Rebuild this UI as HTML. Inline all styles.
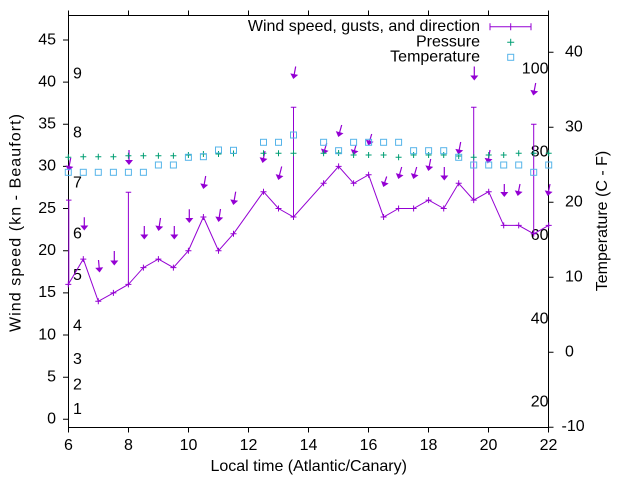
<!DOCTYPE html>
<html>
<head>
<meta charset="utf-8">
<style>
html,body{margin:0;padding:0;background:#fff;}
svg{display:block;}
text{font-family:"Liberation Sans",Arial,sans-serif;font-size:16px;fill:#000;}
</style>
</head>
<body>
<svg width="640" height="480" viewBox="0 0 640 480" xmlns="http://www.w3.org/2000/svg">
<rect width="640" height="480" fill="#fff"/>

<!-- axes box -->
<g stroke="#000" stroke-width="1" fill="none">
<path d="M68.5,15.5H548.5V427.5H68.5Z"/>
<!-- left ticks -->
<path d="M63,419.3h5.5M63,377.2h5.5M63,335.0h5.5M63,292.9h5.5M63,250.7h5.5M63,208.5h5.5M63,166.4h5.5M63,124.2h5.5M63,82.1h5.5M63,40.0h5.5"/>
<!-- bottom ticks -->
<path d="M68.5,427.5v5M128.5,427.5v5M188.5,427.5v5M248.5,427.5v5M308.5,427.5v5M368.5,427.5v5M428.5,427.5v5M488.5,427.5v5M548.5,427.5v5"/>
<!-- top ticks -->
<path d="M68.5,15.5v-5M128.5,15.5v-5M188.5,15.5v-5M248.5,15.5v-5M308.5,15.5v-5M368.5,15.5v-5M428.5,15.5v-5M488.5,15.5v-5M548.5,15.5v-5"/>
<!-- right ticks -->
<path d="M548.5,52.3h5M548.5,127.3h5M548.5,202.3h5M548.5,277.3h5M548.5,352.3h5M548.5,427.3h5"/>
</g>

<!-- left tick labels -->
<g text-anchor="end">
<text x="56" y="423.6">0</text>
<text x="56" y="381.5">5</text>
<text x="56" y="339.3">10</text>
<text x="56" y="297.2">15</text>
<text x="56" y="255.0">20</text>
<text x="56" y="212.8">25</text>
<text x="56" y="170.7">30</text>
<text x="56" y="128.5">35</text>
<text x="56" y="86.4">40</text>
<text x="56" y="44.3">45</text>
</g>

<!-- bottom tick labels -->
<g text-anchor="middle">
<text x="68.5" y="450">6</text>
<text x="128.5" y="450">8</text>
<text x="188.5" y="450">10</text>
<text x="248.5" y="450">12</text>
<text x="308.5" y="450">14</text>
<text x="368.5" y="450">16</text>
<text x="428.5" y="450">18</text>
<text x="488.5" y="450">20</text>
<text x="548.5" y="450">22</text>
</g>

<!-- right tick labels -->
<text x="565" y="56.3">40</text>
<text x="565" y="131.3">30</text>
<text x="565" y="206.3">20</text>
<text x="565" y="281.3">10</text>
<text x="565" y="356.3">0</text>
<text x="561.5" y="431">-10</text>

<!-- axis titles -->
<text x="308.7" y="471" text-anchor="middle">Local time (Atlantic/Canary)</text>
<text transform="translate(20.5,223) rotate(-90)" text-anchor="middle" textLength="218" lengthAdjust="spacing">Wind speed (kn - Beaufort)</text>
<text transform="translate(607,221) rotate(-90)" text-anchor="middle">Temperature (C - F)</text>

<!-- Beaufort labels -->
<g>
<text x="73" y="414">1</text>
<text x="73" y="389.3">2</text>
<text x="73" y="364">3</text>
<text x="73" y="330.7">4</text>
<text x="73" y="280">5</text>
<text x="73" y="238.3">6</text>
<text x="73" y="187.3">7</text>
<text x="73" y="137.3">8</text>
<text x="73" y="78.3">9</text>
</g>

<!-- Fahrenheit labels -->
<g text-anchor="end">
<text x="548.5" y="73.3">100</text>
<text x="548.5" y="156.7">80</text>
<text x="548.5" y="240">60</text>
<text x="548.5" y="323.3">40</text>
<text x="548.5" y="406.7">20</text>
</g>

<!-- wind speed line -->
<g stroke="#9400d3" stroke-width="1" fill="none">
<polyline points="68.3,284.4 83.3,259.1 98.3,301.3 113.4,292.9 128.4,284.4 143.4,267.6 158.4,259.1 173.4,267.6 188.4,250.7 203.4,217.0 218.5,250.7 233.5,233.8 263.5,191.7 278.5,208.5 293.5,217.0 323.6,183.3 338.6,166.4 353.6,183.3 368.6,174.8 383.6,217.0 398.6,208.5 413.6,208.5 428.6,200.1 443.7,208.5 458.7,183.3 473.7,200.1 488.7,191.7 503.7,225.4 518.7,225.4 533.7,233.8 548.7,225.4"/>
<path d="M65.3,284.4h6M68.3,281.4v6M80.3,259.1h6M83.3,256.1v6M95.3,301.3h6M98.3,298.3v6M110.4,292.9h6M113.4,289.9v6M125.4,284.4h6M128.4,281.4v6M140.4,267.6h6M143.4,264.6v6M155.4,259.1h6M158.4,256.1v6M170.4,267.6h6M173.4,264.6v6M185.4,250.7h6M188.4,247.7v6M200.4,217h6M203.4,214v6M215.5,250.7h6M218.5,247.7v6M230.5,233.8h6M233.5,230.8v6M260.5,191.7h6M263.5,188.7v6M275.5,208.5h6M278.5,205.5v6M290.5,217h6M293.5,214v6M320.6,183.3h6M323.6,180.3v6M335.6,166.4h6M338.6,163.4v6M350.6,183.3h6M353.6,180.3v6M365.6,174.8h6M368.6,171.8v6M380.6,217h6M383.6,214v6M395.6,208.5h6M398.6,205.5v6M410.6,208.5h6M413.6,205.5v6M425.6,200.1h6M428.6,197.1v6M440.7,208.5h6M443.7,205.5v6M455.7,183.3h6M458.7,180.3v6M470.7,200.1h6M473.7,197.1v6M485.7,191.7h6M488.7,188.7v6M500.7,225.4h6M503.7,222.4v6M515.7,225.4h6M518.7,222.4v6M530.7,233.8h6M533.7,230.8v6M545.7,225.4h6M548.7,222.4v6"/>
<!-- gust error bars -->
<path d="M68.8,284.4V200.1M66,200.1h5.5"/>
<path d="M128.4,284.4V192.3M125.7,192.3h5.5"/>
<path d="M293.5,217V107.3M290.8,107.3h5.5"/>
<path d="M473.7,200.1V107.3M471,107.3h5.5"/>
<path d="M533.7,233.8V124.3M531,124.3h5.5"/>
</g>

<!-- wind direction arrows -->
<g stroke="#9400d3" stroke-width="1.2" fill="none">
<path d="M70.7,158L68.6,169M84.3,217.3V228M98.5,260L99.4,270M114.3,251V263M129,150V162M144.3,226V237M160.5,218L158.9,228.5M174.3,226V237M189.3,209.3V220.5M205.7,176L203.8,186.5M220.5,209L218.9,219.5M235.7,191.7L233.8,202.5M265,151L263,160.5M281.7,166.5L278.9,177.5M295.7,66.5L293.8,76.5M326.7,143L324,152M341.7,125L339,134.5M356,145L353.9,152.5M371.7,134L369,143M386.7,176.5L384,184.5M401.7,167L399,176.5M416.7,167L414,176.5M430.7,159L428.8,168.5M444.3,167V178M460.7,142L458.8,152M474.3,66.5V78M490,150L488.1,161M504.3,184V194.5M520,184L518.1,193.5M535.7,83L533.8,93M550,184L548.1,193.5"/>
</g>
<g fill="#9400d3">
<path transform="translate(68.5,171) rotate(11)" d="M0,0L-4,-5L4,-5Z"/>
<path transform="translate(84.3,230.5)" d="M0,0L-4,-5L4,-5Z"/>
<path transform="translate(99.6,272.5) rotate(-4.6)" d="M0,0L-4,-5L4,-5Z"/>
<path transform="translate(114.3,265.5)" d="M0,0L-4,-5L4,-5Z"/>
<path transform="translate(129,165)" d="M0,0L-4,-5L4,-5Z"/>
<path transform="translate(144.3,239.5)" d="M0,0L-4,-5L4,-5Z"/>
<path transform="translate(158.5,231) rotate(8.7)" d="M0,0L-4,-5L4,-5Z"/>
<path transform="translate(174.3,239.5)" d="M0,0L-4,-5L4,-5Z"/>
<path transform="translate(189.3,223)" d="M0,0L-4,-5L4,-5Z"/>
<path transform="translate(203.3,189) rotate(10.5)" d="M0,0L-4,-5L4,-5Z"/>
<path transform="translate(218.5,222) rotate(8.7)" d="M0,0L-4,-5L4,-5Z"/>
<path transform="translate(233.3,205) rotate(10.2)" d="M0,0L-4,-5L4,-5Z"/>
<path transform="translate(262.5,163) rotate(11.8)" d="M0,0L-4,-5L4,-5Z"/>
<path transform="translate(278.3,180) rotate(14)" d="M0,0L-4,-5L4,-5Z"/>
<path transform="translate(293.3,79) rotate(10.9)" d="M0,0L-4,-5L4,-5Z"/>
<path transform="translate(323.3,154.5) rotate(17)" d="M0,0L-4,-5L4,-5Z"/>
<path transform="translate(338.3,137) rotate(15.8)" d="M0,0L-4,-5L4,-5Z"/>
<path transform="translate(353.3,155) rotate(15)" d="M0,0L-4,-5L4,-5Z"/>
<path transform="translate(368.3,145.5) rotate(16.5)" d="M0,0L-4,-5L4,-5Z"/>
<path transform="translate(383.3,187) rotate(18)" d="M0,0L-4,-5L4,-5Z"/>
<path transform="translate(398.3,179) rotate(15.8)" d="M0,0L-4,-5L4,-5Z"/>
<path transform="translate(413.3,179) rotate(15.8)" d="M0,0L-4,-5L4,-5Z"/>
<path transform="translate(428.3,171) rotate(11.3)" d="M0,0L-4,-5L4,-5Z"/>
<path transform="translate(444.3,180.5)" d="M0,0L-4,-5L4,-5Z"/>
<path transform="translate(458.3,154.5) rotate(10.9)" d="M0,0L-4,-5L4,-5Z"/>
<path transform="translate(474.3,80.5)" d="M0,0L-4,-5L4,-5Z"/>
<path transform="translate(487.7,163.5) rotate(9.7)" d="M0,0L-4,-5L4,-5Z"/>
<path transform="translate(504.3,197)" d="M0,0L-4,-5L4,-5Z"/>
<path transform="translate(517.7,196) rotate(10.9)" d="M0,0L-4,-5L4,-5Z"/>
<path transform="translate(533.3,95.5) rotate(10.9)" d="M0,0L-4,-5L4,-5Z"/>
<path transform="translate(547.7,196) rotate(10.9)" d="M0,0L-4,-5L4,-5Z"/>
</g>

<!-- pressure -->
<path stroke="#009e73" stroke-width="1" fill="none" d="M65.3,157.3h6M68.3,154.3v6M80.3,156.7h6M83.3,153.7v6M95.3,156.7h6M98.3,153.7v6M110.4,156.7h6M113.4,153.7v6M125.4,155.7h6M128.4,152.7v6M140.4,155.7h6M143.4,152.7v6M155.4,155.7h6M158.4,152.7v6M170.4,155.7h6M173.4,152.7v6M185.4,155h6M188.4,152v6M200.4,154h6M203.4,151v6M215.5,154h6M218.5,151v6M230.5,153.5h6M233.5,150.5v6M260.5,153.3h6M263.5,150.3v6M275.5,153.3h6M278.5,150.3v6M290.5,153.3h6M293.5,150.3v6M320.6,153.3h6M323.6,150.3v6M335.6,153h6M338.6,150v6M350.6,155h6M353.6,152v6M365.6,155h6M368.6,152v6M380.6,155h6M383.6,152v6M395.6,157.3h6M398.6,154.3v6M410.6,155h6M413.6,152v6M425.6,155h6M428.6,152v6M440.7,155h6M443.7,152v6M455.7,156h6M458.7,153v6M470.7,157.3h6M473.7,154.3v6M485.7,155h6M488.7,152v6M500.7,155h6M503.7,152v6M515.7,153.3h6M518.7,150.3v6M530.7,153.3h6M533.7,150.3v6M545.7,153.3h6M548.7,150.3v6"/>

<!-- temperature -->
<g stroke="#56b4e9" stroke-width="1" fill="none">
<rect x="65.3" y="169.3" width="6" height="6"/>
<rect x="80.3" y="169.3" width="6" height="6"/>
<rect x="95.3" y="169.3" width="6" height="6"/>
<rect x="110.4" y="169.3" width="6" height="6"/>
<rect x="125.4" y="169.3" width="6" height="6"/>
<rect x="140.4" y="169.3" width="6" height="6"/>
<rect x="155.4" y="162" width="6" height="6"/>
<rect x="170.4" y="162" width="6" height="6"/>
<rect x="185.4" y="154.3" width="6" height="6"/>
<rect x="200.4" y="153.7" width="6" height="6"/>
<rect x="215.5" y="147" width="6" height="6"/>
<rect x="230.5" y="147.3" width="6" height="6"/>
<rect x="260.5" y="139.3" width="6" height="6"/>
<rect x="275.5" y="139.3" width="6" height="6"/>
<rect x="290.5" y="132" width="6" height="6"/>
<rect x="320.6" y="139.3" width="6" height="6"/>
<rect x="335.6" y="147.7" width="6" height="6"/>
<rect x="350.6" y="139.3" width="6" height="6"/>
<rect x="365.6" y="139.3" width="6" height="6"/>
<rect x="380.6" y="139.3" width="6" height="6"/>
<rect x="395.6" y="139.3" width="6" height="6"/>
<rect x="410.6" y="147.7" width="6" height="6"/>
<rect x="425.6" y="147.7" width="6" height="6"/>
<rect x="440.7" y="147.7" width="6" height="6"/>
<rect x="455.7" y="154.3" width="6" height="6"/>
<rect x="470.7" y="162" width="6" height="6"/>
<rect x="485.7" y="162" width="6" height="6"/>
<rect x="500.7" y="162" width="6" height="6"/>
<rect x="515.7" y="162" width="6" height="6"/>
<rect x="530.7" y="169.3" width="6" height="6"/>
<rect x="545.7" y="162" width="6" height="6"/>
</g>

<!-- legend -->
<g text-anchor="end">
<text x="480" y="31">Wind speed, gusts, and direction</text>
<text x="480" y="46.5">Pressure</text>
<text x="480" y="61.5">Temperature</text>
</g>
<path stroke="#9400d3" stroke-width="1" fill="none" d="M490,26.7H531M490,23.2v7M531,23.2v7M510.7,23.2v7"/>
<path stroke="#009e73" stroke-width="1" fill="none" d="M507.2,42.3h7M510.7,38.8v7"/>
<rect x="507.7" y="54.3" width="6" height="6" stroke="#56b4e9" stroke-width="1" fill="none"/>
</svg>
</body>
</html>
